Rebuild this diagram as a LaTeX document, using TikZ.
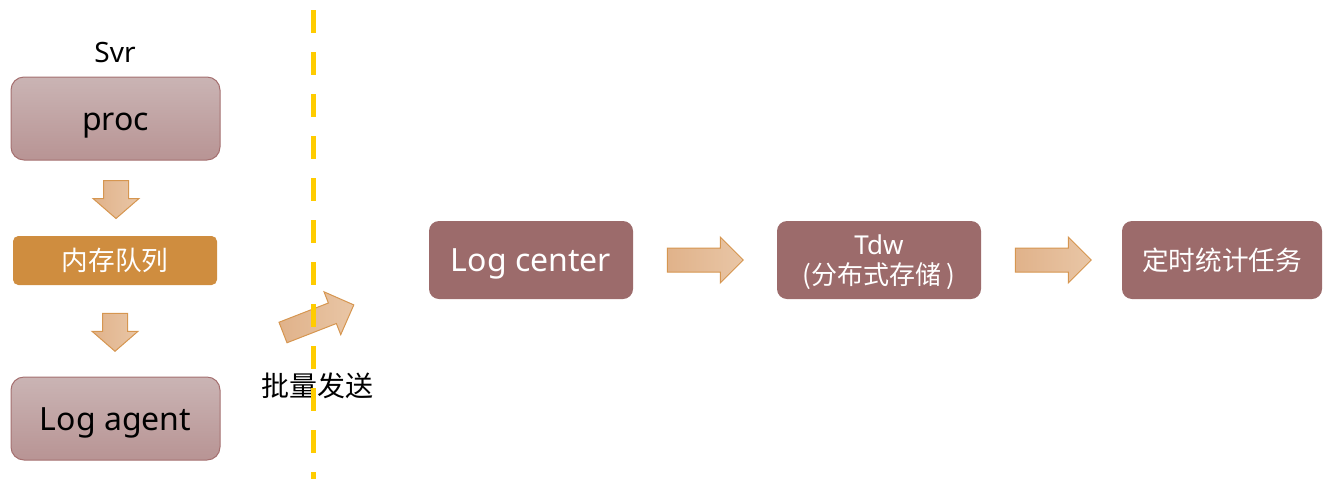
\documentclass[tikz,border=0pt]{standalone}
\usepackage{fontspec}
\setmainfont{Noto Sans}
\newfontfamily\cjk{Noto Sans CJK SC}
\usetikzlibrary{calc}

\definecolor{boxtop}{RGB}{202,180,180}
\definecolor{boxbot}{RGB}{184,148,148}
\definecolor{boxline}{RGB}{165,112,112}
\definecolor{darkbox}{RGB}{156,107,107}
\definecolor{queuefill}{RGB}{207,141,63}
\definecolor{arrowA}{RGB}{224,178,138}
\definecolor{arrowB}{RGB}{233,198,166}
\definecolor{arrowline}{RGB}{214,150,80}
\definecolor{divider}{RGB}{255,204,0}

% block arrow: tail point, direction angle, length, head length, shaft half width
\newcommand\blockarr[5]{%
  \path[blockarrow, shift={#1}, rotate=#2]
    (0,-#5) -- (#3-#4,-#5) -- (#3-#4,-23) -- (#3,0) -- (#3-#4,23)
    -- (#3-#4,#5) -- (0,#5) -- cycle;}

\begin{document}
\begin{tikzpicture}[x=0.75pt,y=-0.75pt,
  latinbig/.style={font=\fontsize{24}{28}\selectfont,
    text height=21.6pt, text depth=4.3pt},
  svrbox/.style={draw=boxline, line width=0.75pt, rounded corners=9.75pt,
    top color=boxtop, bottom color=boxbot, text=black,
    minimum width=156.75pt, minimum height=62.25pt, latinbig},
  darkbox/.style={fill=darkbox, rounded corners=7.5pt, text=white,
    minimum width=153pt, minimum height=58.5pt},
  queuebox/.style={fill=queuefill, rounded corners=4pt, text=white,
    minimum width=153pt, minimum height=36.75pt,
    font=\cjk\fontsize{20}{24}\selectfont},
  blockarrow/.style={draw=arrowline, line width=0.75pt, line join=miter,
    left color=arrowA, right color=arrowB},
  dividerline/.style={draw=divider, line width=3.75pt,
    dash pattern=on 17.25pt off 14.25pt},
  cjklabel/.style={font=\cjk\fontsize{21}{25}\selectfont, text=black}]
\useasboundingbox (0,0) rectangle (1323,479);

% server side
\node[font=\fontsize{21}{24}\selectfont, anchor=base] (svr) at (115,62) {Svr};
\node[svrbox] (proc) at (115.5,118.5) {proc};
\node[queuebox] (queue) at (115,260.5) {内存队列};
\node[svrbox] (agent) at (115.5,418.5) {Log agent};

\blockarr{($(proc.south)+(0.5,20)$)}{-90}{38}{20}{12.5}
\blockarr{($(queue.south)+(0,28)$)}{-90}{38}{20}{12.5}

% batch upload
\node[cjklabel] (send) at (317.5,386) {批量发送};
\blockarr{(283,332.5)}{21.3}{76}{23}{11}

% backend pipeline
\node[darkbox, latinbig] (center) at (531,260) {Log center};
\node[darkbox, align=center, font=\fontsize{19.5}{22}\selectfont,
  text height=40pt, text depth=4pt] (tdw) at (879,260)
  {Tdw\\{\cjk (分布式存储 )}};
\node[darkbox, minimum width=150pt, font=\cjk\fontsize{20}{24}\selectfont]
  (task) at (1222,260) {定时统计任务};

\blockarr{($(center.east)+(34,0)$)}{0}{76}{23}{12}
\blockarr{($(tdw.east)+(34,0)$)}{0}{76}{23}{12}

% boundary between server and backend
\coordinate (dtop) at (313,10);
\coordinate (dbot) at (313,479);
\draw[dividerline] (dtop) -- (dbot);
\end{tikzpicture}
\end{document}
